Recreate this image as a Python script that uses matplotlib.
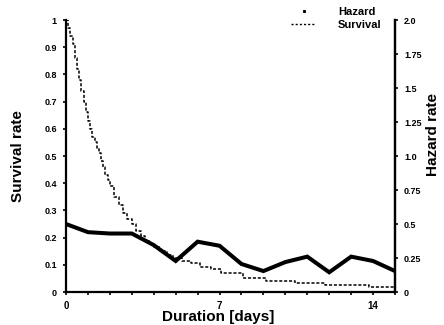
import matplotlib
matplotlib.use("Agg")
import matplotlib.pyplot as plt
from matplotlib.lines import Line2D

# ---- data ----
days = list(range(0, 16))
hazard = [0.50, 0.44, 0.43, 0.43, 0.345, 0.228, 0.37, 0.34, 0.206, 0.154,
          0.22, 0.26, 0.145, 0.26, 0.228, 0.154]

surv_t = [0.0, 0.1, 0.2, 0.3, 0.4, 0.5, 0.6, 0.7, 0.8, 0.9, 1.0, 1.1, 1.2, 1.3,
          1.4, 1.5, 1.6, 1.7, 1.8, 1.9, 2.0, 2.2, 2.4, 2.6, 2.8, 3.0, 3.2, 3.4,
          3.6, 3.8, 4.0, 4.3, 4.6, 4.9, 5.3, 5.7, 6.1, 6.6, 7.05, 8.05, 9.1,
          10.45, 11.8, 13.8, 15.0]
surv_s = [1.0, 0.97, 0.94, 0.91, 0.86, 0.82, 0.78, 0.74, 0.70, 0.66, 0.63, 0.60,
          0.57, 0.55, 0.53, 0.51, 0.48, 0.46, 0.43, 0.41, 0.39, 0.35, 0.32, 0.29,
          0.27, 0.25, 0.225, 0.205, 0.19, 0.175, 0.165, 0.15, 0.135, 0.125,
          0.115, 0.105, 0.093, 0.085, 0.071, 0.05, 0.04, 0.032, 0.025, 0.018,
          0.018]

x_ticks = list(range(0, 16))
x_ticklabels = ["0", "", "", "", "", "", "", "7", "", "", "", "", "", "", "14", ""]
left_ticks = [0, 0.1, 0.2, 0.3, 0.4, 0.5, 0.6, 0.7, 0.8, 0.9, 1.0]
left_labels = ["0", "0.1", "0.2", "0.3", "0.4", "0.5", "0.6", "0.7", "0.8", "0.9", "1"]
right_ticks = [0, 0.25, 0.5, 0.75, 1.0, 1.25, 1.5, 1.75, 2.0]
right_labels = ["0", "0.25", "0.5", "0.75", "1.0", "1.25", "1.5", "1.75", "2.0"]

plt.rcParams['font.family'] = ['Liberation Sans', 'DejaVu Sans']
plt.rcParams['font.weight'] = 'bold'

fig = plt.figure(figsize=(4.44, 3.25), dpi=100)
ax = fig.add_axes([66/444, 1-292/325, (395-66)/444, (292-20)/325])
ax2 = ax.twinx()

ax.plot(surv_t, surv_s, drawstyle='steps-post', color='black', lw=1.1,
        linestyle=(0, (2.0, 1.2)))
ax2.plot(days, hazard, color='black', lw=2.9, solid_joinstyle='miter')

ax.set_xlim(0, 15)
ax.set_ylim(0, 1)
ax2.set_ylim(0, 2.0)

ax.set_xticks(x_ticks)
ax.set_xticklabels(x_ticklabels, fontsize=7, fontweight='bold')
ax.set_yticks(left_ticks)
ax.set_yticklabels(left_labels, fontsize=6.5, fontweight='bold')
ax2.set_yticks(right_ticks)
ax2.set_yticklabels(right_labels, fontsize=6.5, fontweight='bold')

for a in (ax, ax2):
    a.spines['top'].set_visible(False)
    for s in a.spines.values():
        s.set_linewidth(1.6)
    a.tick_params(direction='out', length=2.5, width=1.2, pad=4)
ax2.spines['left'].set_visible(False)
ax2.spines['bottom'].set_visible(False)

ax.set_xlabel("Duration [days]", fontsize=11, fontweight='bold')
ax.xaxis.set_label_coords(0.462, -0.065)
ax.set_ylabel("Survival rate", fontsize=11, fontweight='bold')
ax.yaxis.set_label_coords(-0.125, 0.5)
ax2.set_ylabel("Hazard rate", fontsize=11, fontweight='bold')
ax2.yaxis.set_label_coords(1.095, 0.58)

handles = [Line2D([], [], color='black', linestyle='none', marker='s', markersize=1.2),
           Line2D([], [], color='black', lw=1.0, linestyle=(0, (1.5, 1.5)))]
leg = ax.legend(handles, ["Hazard", "Survival"], loc='upper right',
                bbox_to_anchor=(0.99, 1.085), frameon=False,
                handlelength=2.2, labelspacing=0.25, handletextpad=2.0,
                prop={'weight': 'bold', 'size': 8})

fig.savefig("out.png", dpi=100)
